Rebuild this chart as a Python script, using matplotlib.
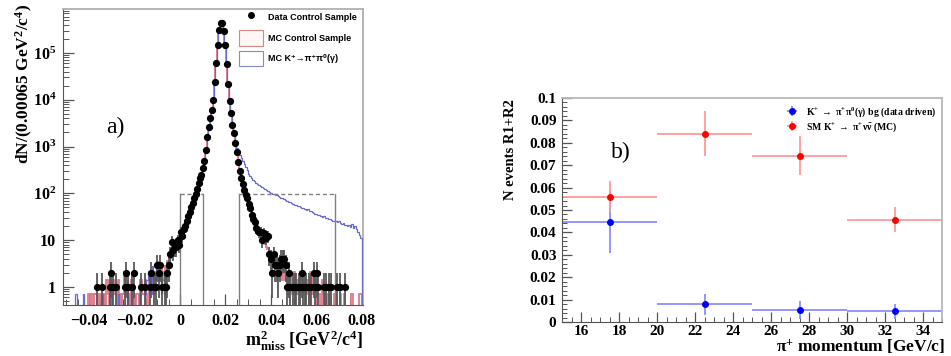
import numpy as np
import matplotlib
matplotlib.use('Agg')
import matplotlib.pyplot as plt
from matplotlib.ticker import FixedLocator, MultipleLocator, LogLocator, FuncFormatter, NullFormatter
from matplotlib.lines import Line2D
from matplotlib.patches import Patch

plt.rcParams['mathtext.fontset'] = 'custom'
plt.rcParams['mathtext.rm'] = 'Liberation Serif:bold'
plt.rcParams['mathtext.it'] = 'Liberation Serif:italic:bold'
plt.rcParams['mathtext.bf'] = 'Liberation Serif:bold'
plt.rcParams['mathtext.default'] = 'rm'

SERIF = ['Liberation Serif', 'DejaVu Serif']
SANS = ['Liberation Sans', 'DejaVu Sans']

# ---------------- panel a) : m2_miss histogram ----------------
BIN_WIDTH = 0.00065
FIRST_BIN = -75          # index of first bin edge (edge = index * BIN_WIDTH)

data_counts = (
    [0, 0, 0, 0, 0, 0, 0, 0, 0, 0] +
    [0, 0, 0, 0, 0, 0, 0, 0, 1, 0] +
    [0, 0, 1, 0, 0, 0, 0, 1, 2, 1] +
    [0, 1, 0, 0, 0, 0, 0, 1, 2, 1] +
    [0, 0, 1, 2, 0, 0, 0, 0, 1, 0] +
    [0, 1, 0, 0, 1, 2, 0, 1, 1, 3] +
    [2, 3, 1, 0, 1, 1, 2, 3, 5, 9] +
    [6, 7, 7, 10, 8, 15, 12, 17, 20, 26] +
    [33, 40, 52, 62, 78, 95, 125, 165, 210, 250] +
    [340, 500, 850, 1600, 2600, 4000, 6000, 10000, 24000, 62000] +
    [150000, 310000, 440000, 440000, 290000, 150000, 58000, 22000, 9500, 5200] +
    [2900, 1900, 1200, 780, 470, 300, 215, 160, 120, 92] +
    [78, 60, 48, 35, 28, 24, 18, 16, 15, 15] +
    [10, 14, 13, 11, 12, 5, 4, 2, 5, 3] +
    [3, 2, 3, 4, 4, 4, 3, 1, 2, 1] +
    [0, 1, 1, 1, 0, 1, 1, 2, 1, 1] +
    [1, 0, 1, 1, 0, 2, 1, 2, 1, 0] +
    [0, 0, 1, 1, 0, 1, 0, 1, 0, 0] +
    [0, 1, 0, 1, 0, 0, 1, 0, 0, 0] +
    [0, 0, 0, 0, 0, 0, 0, 0]
)

mc_control = (
    [0, 0, 0, 0, 0, 0, 0, 0, 0, 0] +
    [0, 0, 0, 0.7, 0, 0.7, 0, 0.7, 0.7, 0] +
    [0.7, 0, 0.7, 0.7, 0, 1.4, 0.7, 0, 0.7, 1.4] +
    [0.7, 0.7, 0, 1.4, 0.7, 0, 0.7, 2.1, 0.7, 0.7] +
    [0, 0.7, 1.4, 0.7, 0, 0.7, 0.7, 0, 1.4, 0.7] +
    [0.7, 1.4, 0, 0.7, 2.1, 0.7, 1.4, 0.7, 2.1, 1.4] +
    [2.1, 1.4, 2.8, 1.4, 2.1, 2.8, 3.5, 2.8, 4.2, 4.9] +
    [5.6, 6.3, 7.0, 8.4, 9.8, 12, 14, 16, 19, 24] +
    [30, 38, 48, 60, 76, 92, 120, 160, 205, 255] +
    [345, 510, 860, 1580, 2650, 4100, 6100, 10200, 24500, 61000] +
    [152000, 315000, 438000, 436000, 288000, 148000, 57000, 21500, 9400, 5100] +
    [2850, 1850, 1180, 770, 460, 305, 220, 158, 118, 90] +
    [74, 58, 46, 37, 30, 24, 20, 17, 14, 12] +
    [11, 9.8, 8.4, 7.0, 6.3, 5.6, 4.9, 4.2, 3.5, 2.8] +
    [3.5, 2.1, 2.8, 2.1, 1.4, 2.8, 1.4, 2.1, 0.7, 2.1] +
    [1.4, 0.7, 2.1, 0.7, 1.4, 0.7, 2.1, 1.4, 0.7, 1.4] +
    [0.7, 1.4, 0, 2.1, 0.7, 0.7, 1.4, 0, 0.7, 0.7] +
    [0, 1.4, 0.7, 0, 0.7, 0, 0.7, 0, 0, 0.7] +
    [0.7, 0, 0, 0.7, 0, 0, 0.7, 0, 0, 0] +
    [0, 0.7, 0, 0, 0, 0, 0.7, 0.7]
)

mc_kpipi0 = (
    [0, 0, 0, 0, 0.7, 0, 0, 0, 0, 0.7] +
    [0, 0, 0, 0, 0, 0, 0, 0, 0, 0] +
    [0, 0, 0.7, 0, 0, 0, 0, 0, 0.7, 0] +
    [0, 0, 0, 0.7, 0, 0, 0, 0, 0, 1.4] +
    [0, 0, 0.7, 0, 0, 0, 0, 0.7, 0, 0] +
    [0, 0.7, 1.4, 2.1, 1.4, 0.7, 2.8, 1.4, 2.1, 3.5] +
    [1.4, 2.1, 0.7, 1.4, 0.7, 2.1, 2.8, 3.5, 4.2, 5.6] +
    [4.9, 6.3, 7.7, 9.1, 9.8, 13, 13, 17, 20, 25] +
    [31, 39, 50, 61, 77, 94, 122, 162, 208, 252] +
    [342, 505, 855, 1590, 2620, 4050, 6050, 10100, 24200, 61500] +
    [151000, 312000, 439000, 438000, 289000, 149000, 57500, 22500, 9600, 5300] +
    [2950, 1950, 1300, 950, 760, 660, 580, 500, 430, 370] +
    [310, 260, 230, 208, 194, 182, 168, 160, 150, 143] +
    [136, 128, 124, 116, 110, 107, 101, 99, 96, 93] +
    [91, 86, 84, 79, 78, 75, 71, 70, 66, 64] +
    [62, 59, 57, 56, 53, 54, 50, 49, 48, 47] +
    [45, 46, 42, 41, 40, 38, 37, 36, 34, 35] +
    [33, 31, 32, 30, 29, 28, 28, 27, 26, 26] +
    [25, 24, 25, 23, 22, 23, 21, 21, 20, 21] +
    [19, 22, 18, 20, 17, 15, 13, 11]
)

region1 = [0.0, 0.01]
region2 = [0.026, 0.068]
region_level = 95

# ---------------- panel b) : expected events ----------------
p_bins_lo = [15, 20, 25, 30]
p_bins_hi = [20, 25, 30, 35]
bg_values = [0.0448, 0.0080, 0.0053, 0.0047]
bg_errors = [0.0142, 0.0047, 0.0040, 0.0035]
sm_values = [0.0560, 0.0840, 0.0743, 0.0457]
sm_errors = [0.0070, 0.0100, 0.0088, 0.0055]

# ============================================================
fig = plt.figure(figsize=(9.51, 3.56), dpi=100)
W, H = 951.0, 356.0

axa = fig.add_axes([63 / W, 1 - 305 / H, 300 / W, 296 / H])
edges = np.arange(FIRST_BIN, FIRST_BIN + len(data_counts) + 1) * BIN_WIDTH
centers = 0.5 * (edges[:-1] + edges[1:])
floor = 1e-4

mcc = np.array(mc_control, dtype=float)
mck = np.array(mc_kpipi0, dtype=float)
dat = np.array(data_counts, dtype=float)

axa.set_yscale('log', nonpositive='clip')
axa.stairs(np.where(mcc > 0, mcc, floor), edges, baseline=floor,
           color='#e07888', lw=1.3, zorder=2)
axa.stairs(np.where(mck > 0, mck, floor), edges, baseline=floor,
           color='#6a6ad0', lw=0.9, zorder=3)

m = dat > 0
yv = dat[m]
err = np.sqrt(yv)
lower = np.where(err >= yv, yv - 1e-3, err)
axa.errorbar(centers[m], yv, yerr=[lower, err], fmt='o', color='black', ms=4.2,
             ecolor='#585858', elinewidth=1.3, capsize=0, zorder=5)

gray = '#808080'
ymin, ymax = 0.41, 8.7e5
for reg in (region1, region2):
    for xv in reg:
        axa.plot([xv, xv], [ymin, region_level], color=gray, lw=1.0, zorder=4)
    axa.plot(reg, [region_level, region_level], color=gray, lw=1.0, ls=(0, (3, 2)), zorder=4)

axa.set_xlim(-0.0515, 0.0805)
axa.set_ylim(ymin, ymax)
axa.xaxis.set_major_locator(FixedLocator([-0.04, -0.02, 0, 0.02, 0.04, 0.06, 0.08]))
axa.xaxis.set_minor_locator(MultipleLocator(0.005))
axa.xaxis.set_major_formatter(FuncFormatter(lambda v, p: '0' if abs(v) < 1e-9 else ('%.2f' % v).replace('-', '\u2212')))
axa.yaxis.set_major_locator(FixedLocator([1, 10, 1e2, 1e3, 1e4, 1e5]))
axa.yaxis.set_minor_locator(LogLocator(base=10, subs=np.arange(2, 10), numticks=20))
axa.yaxis.set_minor_formatter(NullFormatter())

def logfmt(v, p):
    e = int(round(np.log10(v)))
    if e == 0:
        return '1'
    if e == 1:
        return '10'
    return '10$^{%d}$' % e
axa.yaxis.set_major_formatter(FuncFormatter(logfmt))

axa.tick_params(which='both', direction='in', top=False, right=False, colors='#555555',
                labelcolor='black')
axa.tick_params(which='major', length=8, width=0.9)
axa.tick_params(which='minor', length=4, width=0.7)
for lab in axa.get_xticklabels() + axa.get_yticklabels():
    lab.set_family(SERIF)
    lab.set_weight('bold')
    lab.set_size(11.5)
axa.tick_params(axis='x', pad=6)
axa.tick_params(axis='y', pad=5)
for s in ('left', 'bottom'):
    axa.spines[s].set_color('#555555')
for s in ('top', 'right'):
    axa.spines[s].set_color('#b0b0b0')
    axa.spines[s].set_linewidth(1.3)

axa.text(-0.0287, 2500, 'a)', ha='center', va='center', fontsize=17, family=SERIF)

fig.text(24 / W, 1 - 4 / H, 'dN/(0.00065 GeV$^{2}$/c$^{4}$)', rotation=90, ha='center', va='top',
         fontsize=12.5, family=SERIF, weight='bold')
fig.text(363 / W, 1 - 341 / H, 'm$^{2}_{\\mathrm{miss}}$ [GeV$^{2}$/c$^{4}$]', ha='right', va='center',
         fontsize=13, family=SERIF, weight='bold')

leg_handles = [Line2D([], [], marker='o', color='black', ls='none', ms=4),
               Patch(facecolor='#fff6f6', edgecolor='#d08888', lw=0.8),
               Patch(facecolor='white', edgecolor='#8888c8', lw=0.8)]
leg_labels = ['Data Control Sample', 'MC Control Sample', 'MC K\u207a\u2192\u03c0\u207a\u03c0\u2070(\u03b3)']
axa.legend(leg_handles, leg_labels, loc='upper right', bbox_to_anchor=(1.0, 1.02), frameon=False,
           prop={'family': SANS, 'weight': 'bold', 'size': 6.5}, handlelength=2.6,
           handleheight=2.3, labelspacing=0.55, handletextpad=0.6, borderaxespad=0.3)

# ---------------- panel b ----------------
axb = fig.add_axes([562 / W, 1 - 322 / H, 380 / W, 224 / H])
pc = [0.5 * (a + b) for a, b in zip(p_bins_lo, p_bins_hi)]
px = [0.5 * (b - a) for a, b in zip(p_bins_lo, p_bins_hi)]
axb.errorbar(pc, bg_values, xerr=px, yerr=bg_errors, fmt='o', color='#0000ff', ms=4,
             ecolor=(0.55, 0.55, 1.0), elinewidth=1.3, capsize=0,
             label='K$^{+}$ $\\rightarrow$ $\\pi^{+}\\pi^{0}(\\gamma)$ bg (data driven)')
axb.errorbar(pc, sm_values, xerr=px, yerr=sm_errors, fmt='o', color='#ff0000', ms=4,
             ecolor=(1.0, 0.6, 0.6), elinewidth=1.3, capsize=0,
             label='SM K$^{+}$ $\\rightarrow$ $\\pi^{+}\\nu\\bar{\\nu}$ (MC)')
axb.set_xlim(15, 35)
axb.set_ylim(0, 0.1)
axb.xaxis.set_major_locator(MultipleLocator(2))
axb.xaxis.set_minor_locator(MultipleLocator(0.5))
axb.yaxis.set_major_locator(MultipleLocator(0.01))
axb.yaxis.set_minor_locator(MultipleLocator(0.002))
axb.yaxis.set_major_formatter(FuncFormatter(lambda v, p: '0' if abs(v) < 1e-9 else ('0.1' if abs(v - 0.1) < 1e-9 else '%.2f' % v)))
axb.tick_params(which='both', direction='in', top=False, right=False, colors='#555555', labelcolor='black')
axb.tick_params(which='major', length=7, width=0.9)
axb.tick_params(which='minor', length=3.5, width=0.7)
for lab in axb.get_xticklabels() + axb.get_yticklabels():
    lab.set_family(SERIF)
    lab.set_weight('bold')
    lab.set_size(11)
axb.tick_params(axis='x', pad=2)
axb.tick_params(axis='y', pad=4)
for s in ('left', 'bottom'):
    axb.spines[s].set_color('#555555')
for s in ('top', 'right'):
    axb.spines[s].set_color('#b8b8b8')
    axb.spines[s].set_linewidth(1.3)

axb.text(18.1, 0.0755, 'b)', ha='center', va='center', fontsize=17, family=SERIF)
axb.legend(loc='upper right', bbox_to_anchor=(1.0, 0.995), frameon=False,
           prop={'family': SERIF, 'weight': 'bold', 'size': 7}, handlelength=2.0,
           handletextpad=0.4, labelspacing=0.15, borderaxespad=0.2)

fig.text(511 / W, 1 - 99 / H, 'N events R1+R2', rotation=90, ha='center', va='top',
         fontsize=10.5, family=SERIF, weight='bold')
fig.text(945 / W, 1 - 347 / H, '\u03c0$^{+}$ momentum [GeV/c]', ha='right', va='center',
         fontsize=12.5, family=SERIF, weight='bold')

fig.savefig('out.png', dpi=100)
